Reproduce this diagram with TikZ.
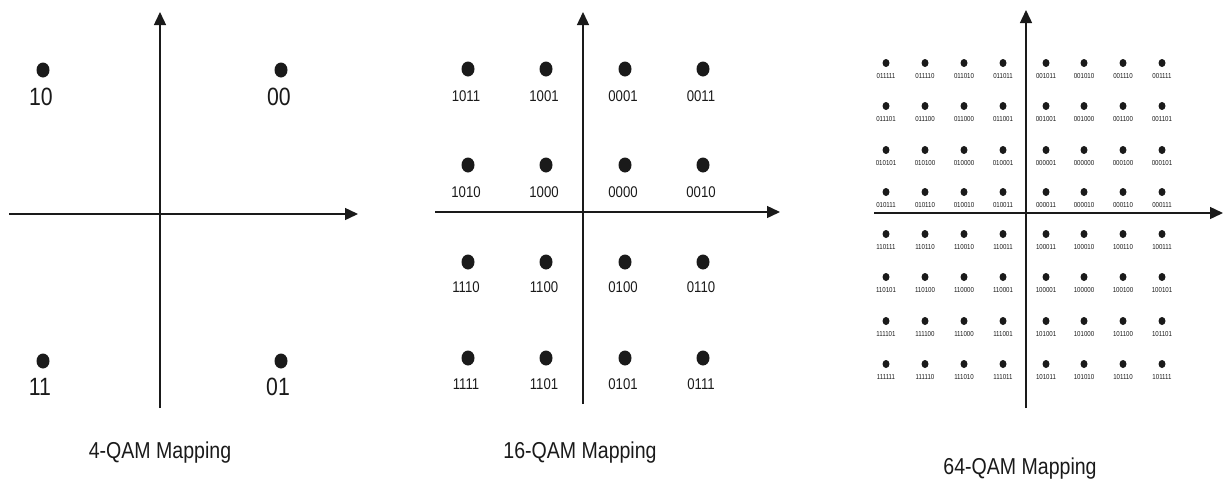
\documentclass[tikz,border=0pt]{standalone}
\usepackage{fontspec}
\usetikzlibrary{arrows.meta,shapes.geometric}
\newfontfamily\narf[FakeStretch=0.85]{Liberation Sans}
\definecolor{ink}{HTML}{1A1A1A}
\def\xsf{{886,925,964,1003,1046,1084,1123,1162}}
\def\xst{{468,546,625,703}}
\newcommand\rowsix[3]{%
  \foreach \lab [count=\c from 0] in {#3} {
    \pgfmathsetmacro\xx{\xsf[\c]}
    \node[dotS] (sd-#1-\c) at (\xx,#2) {};
    \node[labS] (sl-#1-\c) at (\xx,#2+13) {\lab};
  }}
\newcommand\rowsxt[4]{%
  \foreach \lab [count=\c from 0] in {#4} {
    \pgfmathsetmacro\xx{\xst[\c]}
    \node[dotB] (td-#1-\c) at (\xx,#2) {};
    \node[labM] (tl-#1-\c) at (\xx-2,#3) {\lab};
  }}
\begin{document}
\begin{tikzpicture}[x=1pt,y=-1pt,
  axis/.style={line width=1.4pt, draw=ink, -{Triangle[length=13pt,width=12pt]}},
  dotB/.style={ellipse, fill=ink, inner sep=0pt, minimum width=13pt, minimum height=15pt},
  dotS/.style={ellipse, fill=ink, inner sep=0pt, minimum width=7pt, minimum height=8pt},
  labL/.style={font=\narf\fontsize{25}{25}\selectfont, text=ink, inner sep=0pt},
  labM/.style={font=\narf\fontsize{15.5}{15.5}\selectfont, text=ink, inner sep=0pt},
  labS/.style={font=\narf\fontsize{7.2}{7.2}\selectfont, text=ink, inner sep=0pt},
  ttl/.style={font=\narf\fontsize{23}{23}\selectfont, text=ink, inner sep=0pt, anchor=base}]
\useasboundingbox (0,0) rectangle (1229,480);
\fill[white] (0,0) rectangle (1229,480);

% ---------- 4-QAM ----------
\coordinate (a-vb) at (160,408);
\coordinate (a-vt) at (160,12);
\coordinate (a-hl) at (9,214);
\coordinate (a-hr) at (358,214);
\draw[axis] (a-vb) -- (a-vt);
\draw[axis] (a-hl) -- (a-hr);
\node[dotB] (a-d10) at (43,70) {};
\node[dotB] (a-d00) at (281,70) {};
\node[dotB] (a-d11) at (43,361) {};
\node[dotB] (a-d01) at (281,361) {};
\node[labL] (a-l10) at (41,97) {10};
\node[labL] (a-l00) at (279,97) {00};
\node[labL] (a-l11) at (40,387) {11};
\node[labL] (a-l01) at (278,387) {01};
\node[ttl] (a-title) at (160,458) {4-QAM Mapping};

% ---------- 16-QAM ----------
\coordinate (b-vb) at (583,404);
\coordinate (b-vt) at (583,12);
\coordinate (b-hl) at (435,212);
\coordinate (b-hr) at (780,212);
\draw[axis] (b-vb) -- (b-vt);
\draw[axis] (b-hl) -- (b-hr);
\rowsxt{1}{69}{96}{1011,1001,0001,0011}
\rowsxt{2}{165}{192}{1010,1000,0000,0010}
\rowsxt{3}{262}{287}{1110,1100,0100,0110}
\rowsxt{4}{358}{384}{1111,1101,0101,0111}
\node[ttl] (b-title) at (580,458) {16-QAM Mapping};

% ---------- 64-QAM ----------
\coordinate (c-vb) at (1026,408);
\coordinate (c-vt) at (1026,10);
\coordinate (c-hl) at (874,213);
\coordinate (c-hr) at (1223,213);
\draw[axis] (c-vb) -- (c-vt);
\draw[axis] (c-hl) -- (c-hr);
\rowsix{1}{63}{011111,011110,011010,011011,001011,001010,001110,001111}
\rowsix{2}{106}{011101,011100,011000,011001,001001,001000,001100,001101}
\rowsix{3}{150}{010101,010100,010000,010001,000001,000000,000100,000101}
\rowsix{4}{192}{010111,010110,010010,010011,000011,000010,000110,000111}
\rowsix{5}{234}{110111,110110,110010,110011,100011,100010,100110,100111}
\rowsix{6}{277}{110101,110100,110000,110001,100001,100000,100100,100101}
\rowsix{7}{321}{111101,111100,111000,111001,101001,101000,101100,101101}
\rowsix{8}{364}{111111,111110,111010,111011,101011,101010,101110,101111}
\node[ttl] (c-title) at (1020,474) {64-QAM Mapping};
\end{tikzpicture}
\end{document}
